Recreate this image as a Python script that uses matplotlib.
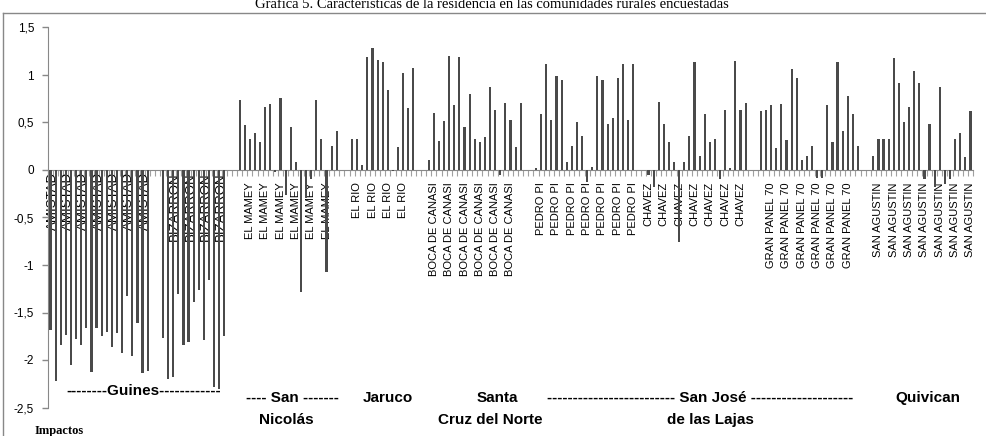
import numpy as np
import matplotlib
matplotlib.use('Agg')
import matplotlib.pyplot as plt
from matplotlib.lines import Line2D

plt.rcParams['font.family'] = ['Liberation Sans', 'DejaVu Sans']

communities = ['AMISTAD', 'BIZARRON', 'EL MAMEY', 'EL RIO', 'BOCA DE CANASI',
	'PEDRO PI', 'CHAVEZ', 'GRAN PANEL 70', 'SAN AGUSTIN']

amistad = [-1.68, -2.22, -1.84, -1.74, -2.05, -1.78, -1.84, -1.66, -2.13, -1.66,
	-1.75, -1.70, -1.86, -1.72, -1.93, -1.33, -1.96, -1.61, -2.14, -2.12]
bizarron = [-1.77, -2.20, -2.18, -1.30, -1.84, -1.81, -1.39, -1.26, -1.79, -1.16,
	-2.28, -2.30, -1.75]
el_mamey = [0.74, 0.47, 0.33, 0.39, 0.29, 0.66, 0.69, -0.02, 0.76, -0.26,
	0.45, 0.08, -1.28, -0.29, -0.10, 0.74, 0.33, -1.07, 0.25, 0.41]
el_rio = [0.33, 0.33, 0.05, 1.19, 1.28, 1.16, 1.14, 0.84, -0.01, 0.24, 1.02, 0.65, 1.07]
boca = [0.11, 0.60, 0.31, 0.52, 1.20, 0.68, 1.19, 0.45, 0.80, 0.33,
	0.29, 0.35, 0.87, 0.63, -0.05, 0.71, 0.53, 0.24, 0.71]
pedro_pi = [0.02, 0.59, 1.12, 0.53, 0.99, 0.95, 0.08, 0.25, 0.51, 0.36,
	-0.13, 0.03, 0.99, 0.95, 0.48, 0.55, 0.97, 1.12, 0.53, 1.12]
chavez = [-0.05, -0.18, 0.72, 0.48, 0.29, 0.08, -0.76, 0.08, 0.36, 1.14,
	0.15, 0.59, 0.29, 0.33, -0.10, 0.63, 0.02, 1.15, 0.63, 0.71]
gran_panel = [0.62, 0.63, 0.68, 0.23, 0.69, 0.32, 1.06, 0.97, 0.11, 0.15,
	0.25, -0.08, -0.08, 0.68, 0.29, 1.14, 0.41, 0.78, 0.59, 0.25]
san_agustin = [0.15, 0.33, 0.33, 0.33, 1.18, 0.92, 0.50, 0.66, 1.04, 0.92,
	-0.09, 0.48, -0.18, 0.87, -0.15, -0.10, 0.33, 0.39, 0.14, 0.62]

series = [amistad, bizarron, el_mamey, el_rio, boca, pedro_pi, chavez, gran_panel, san_agustin]

y_ticks = [-2.5, -2, -1.5, -1, -0.5, 0, 0.5, 1, 1.5]
y_tick_labels = ['-2,5', '-2', '-1,5', '-1', '-0,5', '0', '0,5', '1', '1,5']

# build the category list, two empty slots between communities
names = []
vals = []
for k in range(len(communities)):
	if k > 0:
		names += ['', '']
		vals += [np.nan, np.nan]
	names += [communities[k]] * len(series[k])
	vals += series[k]
vals = np.array(vals)
x = np.arange(len(vals))
mask = ~np.isnan(vals)

W, H = 987, 436
fig = plt.figure(figsize=(W / 100, H / 100), dpi=100)
ax = fig.add_axes([48 / W, 1 - 407.5 / H, (973 - 48) / W, (407.5 - 27.5) / H])

ax.bar(x[mask], vals[mask], width=0.42, color='#4a4a4a', zorder=3)

ax.set_xlim(-0.5, len(vals) - 0.5)
ax.set_ylim(-2.5, 1.5)
ax.set_yticks(y_ticks)
ax.set_yticklabels(y_tick_labels, fontsize=8.5)
ax.tick_params(axis='y', length=4, width=1, color='#888888', pad=6)

ax.set_xticks([])
ax.set_xticks(np.arange(-0.5, len(vals), 1), minor=True)
ax.tick_params(axis='x', which='minor', length=4, width=0.8, color='#a0a0a0', direction='out')

for s in ['top', 'right']:
	ax.spines[s].set_visible(False)
ax.spines['bottom'].set_position(('data', 0))
ax.spines['bottom'].set_color('#888888')
ax.spines['left'].set_color('#888888')
ax.patch.set_alpha(0)

# every third category gets its name, as in the original
for i in range(len(names)):
	if i % 3 != 0 or names[i] == '':
		continue
	if names[i] in ('AMISTAD', 'BIZARRON'):
		ax.text(i + 0.4, -0.02, names[i], rotation=90, ha='center', va='top', fontsize=9.5, zorder=2)
	else:
		ax.text(i, -0.13, names[i], rotation=90, ha='center', va='top', fontsize=8, zorder=2)

def px(xp, yp):
	return xp / W, 1 - yp / H

grp = dict(ha='center', va='center', fontsize=11, fontweight='bold')
fig.text(*px(143.5, 391), '--------Guines------------', **grp)
fig.text(*px(292.5, 398), '---- San -------', **grp)
fig.text(*px(286, 420), 'Nicolás', **grp)
fig.text(*px(387.5, 398), 'Jaruco', **grp)
fig.text(*px(497.5, 398), 'Santa', **grp)
fig.text(*px(490, 420), 'Cruz del Norte', **grp)
fig.text(*px(700, 398), '-' * 25 + ' San José ' + '-' * 20, **grp)
fig.text(*px(710, 420), 'de las Lajas', **grp)
fig.text(*px(927.5, 398), 'Quivican', **grp)

fig.text(*px(58.8, 431), 'Impactos', ha='center', va='center', fontsize=9,
	fontweight='bold', family='Liberation Serif')

fig.text(*px(492, 8.5), 'Gráfica 5. Características de la residencia en las comunidades rurales encuestadas',
	ha='center', va='baseline', fontsize=10.5, family='Liberation Serif')

# frame of the chart object
fig.add_artist(Line2D([3 / W, 3 / W], [0, 1 - 13 / H], transform=fig.transFigure, color='#888888', lw=1))
fig.add_artist(Line2D([3 / W, 1], [1 - 13 / H, 1 - 13 / H], transform=fig.transFigure, color='#888888', lw=1))

fig.savefig('out.png', dpi=100)
